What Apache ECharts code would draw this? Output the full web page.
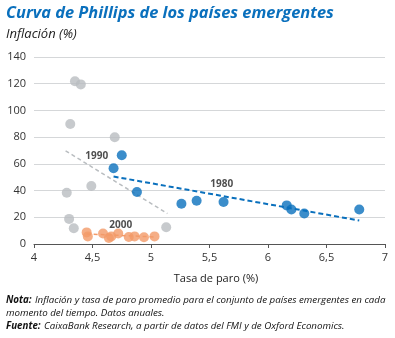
<!DOCTYPE html>
<html><head><meta charset="utf-8">
<script src="https://cdn.jsdelivr.net/npm/echarts@6/dist/echarts.min.js"></script>
<style>html,body{margin:0;padding:0;background:#fff}#c{width:395px;height:338px}</style>
</head><body><div id="c"></div>
<script>
// Data (unemployment %, inflation %)
const grey1990 = [[4.35,121.8],[4.40,119.5],[4.31,89.9],[4.69,79.9],[4.49,43.4],[4.28,38.4],[4.30,18.8],[4.34,11.8],[5.13,12.5]];
const blue1980 = [[4.75,66.5],[4.68,56.7],[4.88,38.9],[5.26,30.1],[5.39,32.4],[5.62,31.4],[6.16,28.9],[6.20,25.8],[6.31,22.8],[6.78,25.8]];
const orange2000 = [[4.45,8.7],[4.46,5.7],[4.59,7.8],[4.64,4.5],[4.66,5.7],[4.72,7.8],[4.81,5.3],[4.86,5.7],[4.94,5.0],[5.03,5.7]];
const trend1990 = [[4.27,69.8],[5.14,22.8]];
const trend1980 = [[4.68,50.5],[6.78,17.6]];
const trend2000 = [[4.45,7.5],[5.03,5.3]];
const decadeLabels = [["1990",4.536,65.6],["1980",5.604,44.5],["2000",4.741,14.0]];
const xTicks = {min:4, max:7, step:0.5};
const yTicks = {min:0, max:140, step:20};

const BLUE = '#0a70bd', GREY = '#b9bdc0', ORANGE = '#f39a68';
const FONT = '"Open Sans", "Noto Sans", sans-serif';
const chart = echarts.init(document.getElementById('c'), null, {renderer:'canvas'});
chart.setOption({
  animation:false,
  backgroundColor:'#fff',
  textStyle:{fontFamily:FONT},
  grid:{left:34, right:10, top:57, bottom:94, containLabel:false},
  xAxis:{type:'value', min:xTicks.min, max:xTicks.max, interval:xTicks.step,
    axisLine:{show:true, onZero:false, lineStyle:{color:'#555', width:1}},
    axisTick:{show:true, inside:false, length:4, lineStyle:{color:'#555'}},
    splitLine:{show:false},
    axisLabel:{color:'#333', fontSize:11, margin:8, fontFamily:FONT, formatter:v=>String(v).replace('.',',')},
    name:'Tasa de paro (%)', nameLocation:'middle', nameGap:29,
    nameTextStyle:{color:'#222', fontSize:11, fontFamily:FONT, padding:[0,0,0,13]}},
  yAxis:{type:'value', min:yTicks.min, max:yTicks.max, interval:yTicks.step,
    axisLine:{show:false}, axisTick:{show:false},
    splitLine:{show:true, lineStyle:{color:'#d5d7d9', width:1}},
    axisLabel:{color:'#333', fontSize:11, margin:8, fontFamily:FONT}},
  series:[
    {type:'line', data:trend1990, symbol:'none', lineStyle:{color:GREY, width:1.5, type:[4,3]}, z:1},
    {type:'line', data:trend1980, symbol:'none', lineStyle:{color:BLUE, width:2, type:[5,3]}, z:1},
    {type:'line', data:trend2000, symbol:'none', lineStyle:{color:ORANGE, width:1.5, type:[4,3]}, z:1},
    {type:'scatter', data:grey1990, symbolSize:10, itemStyle:{color:GREY}, z:3},
    {type:'scatter', data:blue1980, symbolSize:10, itemStyle:{color:BLUE}, z:3},
    {type:'scatter', data:orange2000, symbolSize:10, itemStyle:{color:ORANGE}, z:3},
    {type:'scatter', data:decadeLabels.map(d=>({name:d[0], value:[d[1],d[2]]})), symbolSize:0, z:4,
      label:{show:true, position:'inside', formatter:p=>p.name, color:'#222', fontSize:10, fontWeight:'bold', fontFamily:FONT}}
  ],
  graphic:[
    {type:'text', left:6, top:5, style:{text:'Curva de Phillips de los países emergentes', fill:BLUE, font:'italic bold 16.4px '+FONT}},
    {type:'text', left:6, top:28, style:{text:'Inflación (%)', fill:'#222', font:'italic 13px '+FONT}},
    {type:'text', left:6, top:294, style:{rich:{b:{font:'italic bold 9.75px '+FONT, fill:'#111'}, n:{font:'italic 9.75px '+FONT, fill:'#111'}},
      text:'{b|Nota:} {n|Inflación y tasa de paro promedio para el conjunto de países emergentes en cada}\n{n|momento del tiempo. Datos anuales.}\n{b|Fuente:} {n|CaixaBank Research, a partir de datos del FMI y de Oxford Economics.}', lineHeight:13}}
  ]
});
</script></body></html>
